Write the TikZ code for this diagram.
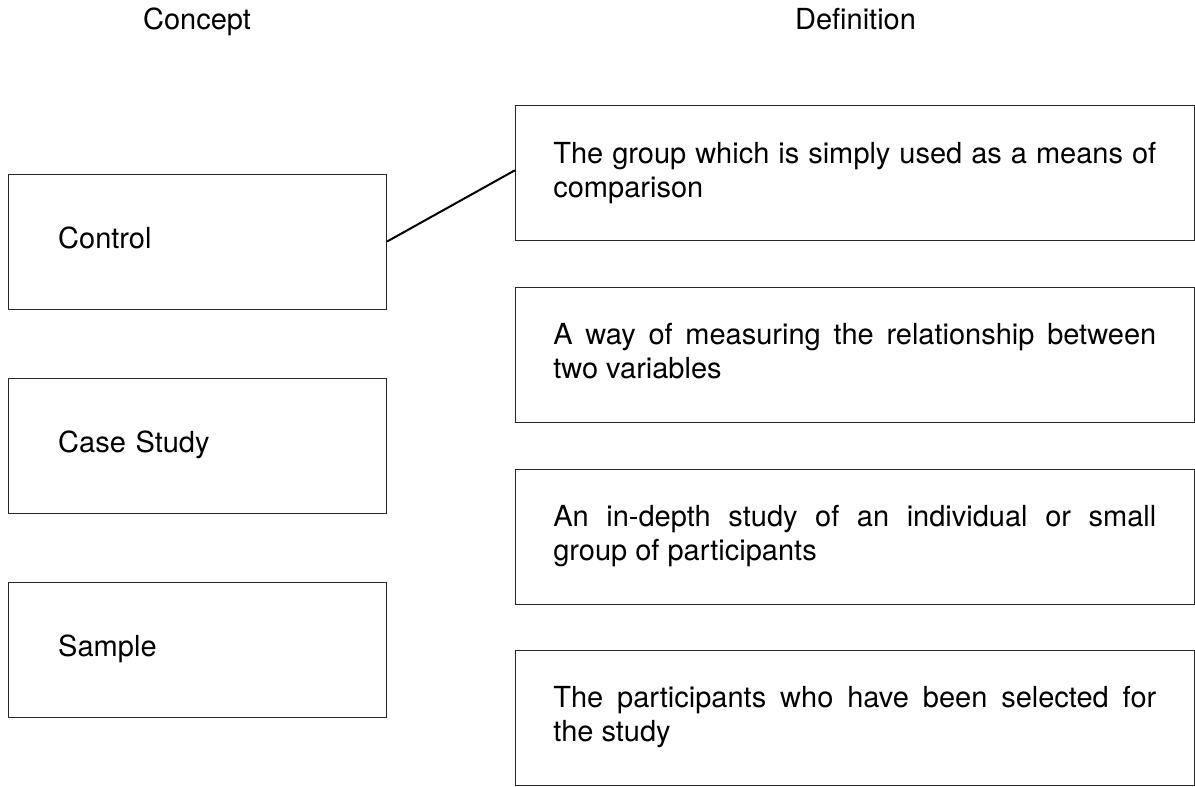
\documentclass[tikz,border=0pt]{standalone}
\usepackage{fontspec}
\setmainfont{TeX Gyre Heros}
\hyphenpenalty=10000
\exhyphenpenalty=10000
\tolerance=10000
\newcommand{\boxfont}{\fontsize{14.5}{17}\selectfont}
\tikzset{head/.style={anchor=base, font=\boxfont}}
\tikzset{concept/.style={draw=black!85, line width=.4pt, inner sep=0pt,
  minimum width=189pt, minimum height=67.5pt,
  text width=139.5pt, align=left, font=\boxfont}}
\tikzset{defn/.style={draw=black!85, line width=.4pt, inner sep=0pt,
  minimum width=339.5pt, minimum height=67.5pt,
  text width=301.5pt, align=justify, font=\boxfont}}

\begin{document}
\begin{tikzpicture}[x=.5pt, y=-.5pt]

\useasboundingbox (0,0) rectangle (1195,787);

\node [head] (hconcept) at (197, 29.5) {Concept};
\node [head] (hdefn) at (855.5, 29.5) {Definition};

\node [concept] (control) at (197.7, 241.5) {\strut Control\strut};
\node [concept] (casestudy) at (197.7, 445.8) {\strut Case Study\strut};
\node [concept] (sample) at (197.7, 649.8) {\strut Sample\strut};

\node [defn] (def1) at (854.8, 173.3) {\strut The group which is simply used as a means of\linebreak comparison\strut};
\node [defn] (def2) at (854.8, 354.8) {\strut A way of measuring the relationship between\linebreak two variables\strut};
\node [defn] (def3) at (854.8, 536.5) {\strut An in-depth study of an individual or small\linebreak group of participants\strut};
\node [defn] (def4) at (854.8, 717.5) {\strut The participants who have been selected for\linebreak the study\strut};

\draw [line width=1pt] (control.east) -- ([yshift=1.5pt]def1.west);

\end{tikzpicture}
\end{document}
